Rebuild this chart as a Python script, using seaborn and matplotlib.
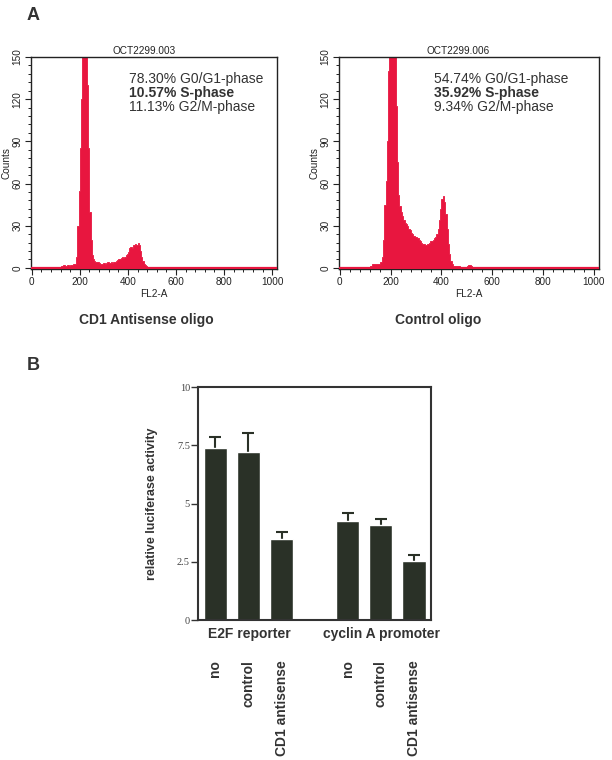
import numpy as np
import pandas as pd
import matplotlib
matplotlib.use('Agg')
import matplotlib.pyplot as plt
from matplotlib.ticker import MultipleLocator
import seaborn as sns

# ── data: FACS histograms (5-channel bins on FL2-A) ─────────────
channel_start = list(range(100, 550, 5))

counts_antisense = [
    0, 0, 0, 0.5, 1, 1.5, 2, 2, 1.5, 2,
    2, 1.5, 2, 2, 2.5, 3, 3, 8, 30, 55,
    85, 120, 160, 180, 185, 175, 130, 85, 40, 20,
    9, 6, 5, 4.5, 4, 4, 3.5, 3, 3, 3.5,
    3.5, 3, 3.5, 4, 3.5, 3.5, 4, 3.5, 4, 4.5,
    5, 5.5, 6, 6.5, 7, 7.5, 7, 8, 9, 10,
    11, 14, 15, 14, 16, 16.5, 17, 16, 17.5, 16,
    12, 8, 5, 3, 2, 1, 0.5, 0, 0, 0,
    0, 0, 0, 0, 0, 0, 0, 0, 0, 0,
]
counts_control = [
    0, 0, 0, 0.5, 1.5, 2.5, 2.5, 2.5, 3, 2.5,
    3, 3, 4, 8, 20, 45, 62, 90, 140, 170,
    190, 200, 195, 175, 115, 75, 52, 44, 40, 37,
    34, 32, 31, 30, 28, 27, 25, 24, 23, 22,
    22, 21, 20, 19, 18, 17, 17, 16, 16, 17,
    18, 19, 19, 20, 21, 22, 24, 28, 34, 42,
    49, 51, 47, 38, 28, 17, 10, 5, 2.5, 1.5,
    1.5, 1, 1.5, 1, 1, 0.5, 0, 0, 0, 0.5,
    1.5, 2, 2, 1.5, 0.5, 0, 0, 0, 0, 0,
]
sample_ids = ['OCT2299.003', 'OCT2299.006']
sample_names = ['CD1 Antisense oligo', 'Control oligo']
phases_antisense = ['78.30% G0/G1-phase', '10.57% S-phase', '11.13% G2/M-phase']
phases_control = ['54.74% G0/G1-phase', '35.92% S-phase', '9.34% G2/M-phase']

# ── data: luciferase assay ───────────────────────────────────────
reporters = ['E2F reporter', 'cyclin A promoter']
treatments = ['no', 'control', 'CD1 antisense']
luc_e2f = [7.38, 7.21, 3.47]
luc_cyca = [4.27, 4.07, 2.52]
sem_e2f = [0.47, 0.84, 0.33]
sem_cyca = [0.33, 0.27, 0.29]

RED = '#e8163f'
DARK = '#2a3127'
TXT = '#333333'

sns.set_style('ticks')
plt.rcParams['font.family'] = ['Liberation Sans', 'DejaVu Sans']

fig = plt.figure(figsize=(6.12, 7.6), dpi=100)

# ── A: histograms ────────────────────────────────────────────────
hist_axes = [fig.add_axes([31 / 612, 1 - 269 / 760, 246 / 612, 212 / 760]),
             fig.add_axes([339 / 612, 1 - 269 / 760, 260 / 612, 212 / 760])]
hist_counts = [counts_antisense, counts_control]
hist_phases = [phases_antisense, phases_control]
text_x = [0.40, 0.365]

edges = channel_start + [channel_start[-1] + 5]
centers = [c + 2.5 for c in channel_start]

for i, ax in enumerate(hist_axes):
    sns.histplot(x=centers, weights=hist_counts[i], bins=edges, element='step',
                 fill=True, color=RED, alpha=1, linewidth=0.6, ax=ax)
    ax.axhline(0, color=RED, lw=1.6, zorder=3)
    ax.set_xlim(-3, 1020)
    ax.set_ylim(-0.8, 150)
    ax.set_xticks([0, 200, 400, 600, 800, 1000])
    ax.set_yticks([0, 30, 60, 90, 120, 150])
    ax.xaxis.set_minor_locator(MultipleLocator(40))
    ax.yaxis.set_minor_locator(MultipleLocator(6))
    ax.tick_params(which='major', length=4, width=0.8, labelsize=7.2, colors='#222', pad=2)
    ax.tick_params(which='minor', length=2.2, width=0.7, colors='#222')
    ax.tick_params(axis='y', labelrotation=90)
    for lab in ax.get_yticklabels():
        lab.set_va('center')
    for s in ax.spines.values():
        s.set_linewidth(1.0)
        s.set_color('#222')
    ax.set_xlabel('FL2-A', fontsize=7.2, color='#222', labelpad=1)
    ax.set_ylabel('Counts', fontsize=7.2, color='#222', labelpad=1)
    ax.set_title(sample_ids[i], fontsize=7.2, color='#222', pad=2, x=0.46)
    for j, line in enumerate(hist_phases[i]):
        ax.text(text_x[i], 0.896 - j * 0.066, line, transform=ax.transAxes,
                fontsize=10, color=TXT, fontweight='bold' if j == 1 else 'normal',
                va='center', ha='left')

fig.text(146 / 612, 1 - 320 / 760, sample_names[0], fontsize=10, fontweight='bold',
         color=TXT, ha='center', va='center')
fig.text(438 / 612, 1 - 320 / 760, sample_names[1], fontsize=10, fontweight='bold',
         color=TXT, ha='center', va='center')
fig.text(33 / 612, 1 - 15 / 760, 'A', fontsize=13, fontweight='bold', color=TXT,
         ha='center', va='center')
fig.text(33 / 612, 1 - 365 / 760, 'B', fontsize=13, fontweight='bold', color=TXT,
         ha='center', va='center')

# ── B: luciferase bars ───────────────────────────────────────────
rows = []
for rep, vals, errs in [(reporters[0], luc_e2f, sem_e2f), (reporters[1], luc_cyca, sem_cyca)]:
    for t, v, e in zip(treatments, vals, errs):
        rows.append({'key': rep + '|' + t, 'reporter': rep, 'treatment': t,
                     'activity': v, 'sem': e})
luc = pd.DataFrame(rows)
order = [reporters[0] + '|' + t for t in treatments] + ['gap'] + \
        [reporters[1] + '|' + t for t in treatments]

axb = fig.add_axes([198.3 / 612, 1 - 620 / 760, 232.4 / 612, 232.7 / 760])
sns.barplot(data=luc, x='key', y='activity', order=order, color=DARK,
            saturation=1, width=0.7, errorbar=None, ax=axb, zorder=2)
pos = [order.index(k) for k in luc['key']]
# symmetric bars drawn under the columns, so only the upper half shows
axb.errorbar(pos, luc['activity'], yerr=luc['sem'], fmt='none', ecolor=DARK,
             elinewidth=1.5, capsize=4, capthick=1.5, zorder=1)
axb.set_xlim(-0.515, 6.505)
axb.set_ylim(0, 10)
axb.set_yticks([0, 2.5, 5, 7.5, 10])
axb.set_yticklabels(['0', '2.5', '5', '7.5', '10'], family='Liberation Serif',
                    fontsize=7.5, color='#444')
axb.tick_params(axis='y', length=5, width=1, color='#333', pad=1)
axb.tick_params(axis='x', length=0, pad=29)
axb.set_xticks(pos)
axb.set_xticklabels(luc['treatment'], rotation=90, fontsize=10, fontweight='bold',
                    color=TXT, va='top', ha='center')
for s in axb.spines.values():
    s.set_linewidth(1.5)
    s.set_color('#333')
    s.set_zorder(3)
axb.set_xlabel('')
axb.set_ylabel('relative luciferase activity', fontsize=9, fontweight='bold',
               color=TXT, labelpad=14)
for rep in reporters:
    mid = order.index(rep + '|' + treatments[1])
    axb.text(mid + 0.03, -0.6, rep, fontsize=10, fontweight='bold', color=TXT,
             ha='center', va='center', transform=axb.transData)

fig.savefig('out.png', dpi=100)
